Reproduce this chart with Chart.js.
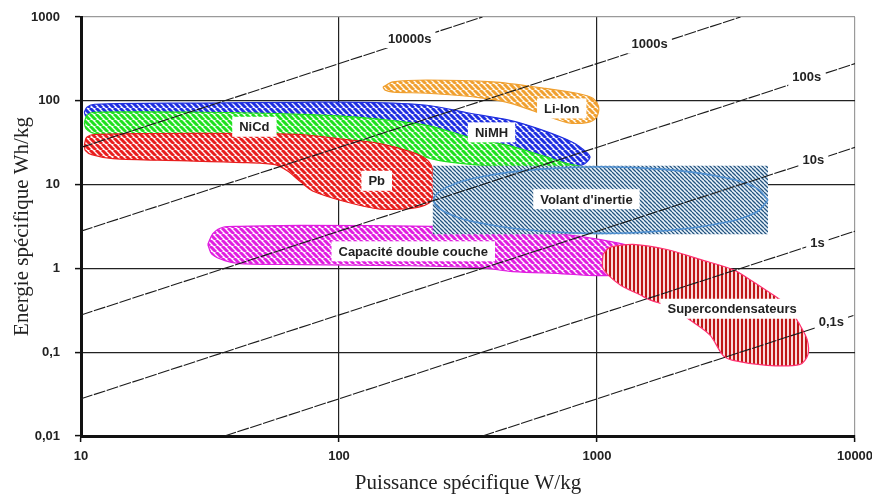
<!DOCTYPE html>
<html>
<head>
<meta charset="utf-8">
<script src="https://cdn.jsdelivr.net/npm/chart.js"></script>
<style>
  body { margin: 0; background: #fff; }
  #wrap { width: 872px; height: 494px; }
</style>
</head>
<body>
<div id="wrap"><canvas id="myChart" width="872" height="494"></canvas></div>
<script>
// axes
var xTicks = [10, 100, 1000, 10000];
var xTickLabels = ['10', '100', '1000', '10000'];
var yTicks = [0.01, 0.1, 1, 10, 100, 1000];
var yTickLabels = ['0,01', '0,1', '1', '10', '100', '1000'];

// region outlines, [puissance W/kg, energie Wh/kg]
var nimh = [[10.3,73],[10.55,84],[11.3,91],[29,94],[71,96],[120,96],[219,88.5],[322,71],[460,58.5],[618,44.4],[807,31.8],[914,24.1],[939,21],[883,17.3],[751,16.3],[421,19.3],[172,33.6],[71,51],[18.5,58.5],[11.3,61.8],[10.45,65.3]];
var nicd = [[10.3,55],[10.55,67],[11.3,73],[29,73],[71,69],[120,63.5],[219,51],[322,36.5],[460,29],[618,22],[766,17.8],[898,15.9],[786,14.6],[421,16.3],[246,19.3],[172,25.5],[71,33.6],[18.5,36.5],[11.3,40.7],[10.45,46.7]];
var pb = [[10.3,29.2],[10.5,36.5],[11.3,39.6],[18.5,40.7],[45,40.7],[71,39.6],[107,34.5],[144,30.9],[194,24.1],[221,19.3],[231,14.6],[231,7.3],[221,5.9],[194,5.25],[144,5.1],[107,6.2],[79,8.4],[71,10.8],[63,14.6],[56.5,17.3],[44,18.3],[24,19.3],[13.3,20.4],[11,22.8],[10.4,25.5]];
var liion = [[148,146],[162,168],[219,177],[395,168],[618,142],[836,123],[964,107],[1015,84],[995,63.5],[914,55],[766,55],[601,71],[460,94],[343,110],[219,123],[162,127],[151,134]];
var capa = [[31,1.93],[32.5,2.62],[35.5,3.1],[41.3,3.18],[70.6,3.27],[231,3.18],[503,2.93],[859,2.41],[1227,1.99],[1603,1.6],[1754,1.28],[1468,0.916],[1028,0.819],[719,0.866],[472,0.916],[352,1.02],[172,1.08],[70.6,1.11],[41.3,1.14],[36.1,1.24],[32.2,1.47]];
var volantBox = [[231,16.8],[4600,16.8],[4600,2.55],[231,2.55]];
var volantRing = [[4600,6.54],[4113,9.27],[2972,12.5],[1836,15.2],[1037,16.3],[585,15.2],[361,12.5],[261,9.27],[233,6.54],[261,4.61],[361,3.43],[585,2.81],[1037,2.62],[1836,2.81],[2972,3.43],[4113,4.61]];
var supercap = [[1055,1.47],[1104,1.73],[1154,1.83],[1380,1.93],[1866,1.68],[2507,1.28],[3366,0.968],[3919,0.733],[4808,0.484],[5600,0.347],[5957,0.242],[6120,0.211],[6518,0.143],[6575,0.0944],[6120,0.0715],[4563,0.0696],[3366,0.0799],[3077,0.0918],[2741,0.16],[2293,0.242],[1918,0.347],[1603,0.421],[1468,0.484],[1227,0.638],[1055,0.996]];

// constant time lines (energie / puissance)
var timeNames = ['10000s', '1000s', '100s', '10s', '1s', '0,1s'];
var timeStartP = [10, 10, 10, 10, 36, 360];
var timeStartE = [27.8, 2.78, 0.278, 0.0278, 0.01, 0.01];
var timeEndP = [360, 3600, 10000, 10000, 10000, 10000];
var timeEndE = [1000, 1000, 278, 27.8, 2.78, 0.278];
var timeLabelP = [188, 1600, 6500, 6900, 7150, 8100];
var timeLabelE = [560, 480, 195, 19.8, 2.05, 0.232];

// region labels
var regionNames = ['NiCd', 'NiMH', 'Pb', 'Li-Ion', "Volant d'inertie", 'Capacité double couche', 'Supercondensateurs'];
var regionLabelP = [47, 390, 140, 730, 910, 194, 3340];
var regionLabelE = [49, 42, 11.1, 81, 6.7, 1.6, 0.33];

function hatch(color, bg, size, width, dir) {
   var c = document.createElement('canvas');
   c.width = size; c.height = size;
   var g = c.getContext('2d');
   g.fillStyle = bg;
   g.fillRect(0, 0, size, size);
   g.strokeStyle = color;
   g.lineWidth = width;
   g.beginPath();
   if (dir === '|') {
      g.moveTo(size / 2, 0); g.lineTo(size / 2, size);
   } else {
      [-size, 0, size].forEach(function(o) {
         if (dir === '\\') { g.moveTo(o, 0); g.lineTo(o + size, size); }
         else { g.moveTo(o, size); g.lineTo(o + size, 0); }
      });
   }
   g.stroke();
   return g.createPattern(c, 'repeat');
}

function pts(list, close) {
   var d = list.map(function(p) { return {x: p[0], y: p[1]}; });
   if (close) d.push({x: list[0][0], y: list[0][1]});
   return d;
}

function region(list, color, pattern, order, tension) {
   return {
      data: pts(list, true),
      borderColor: color,
      borderWidth: 1.2,
      backgroundColor: pattern,
      fill: 'shape',
      tension: tension,
      pointRadius: 0,
      order: order
   };
}

var datasets = [
   region(nimh, '#1f2fe0', hatch('#1f2fe0', '#f6f6ff', 6, 3, '\\'), 18, 0.3),
   region(nicd, '#1fe01f', hatch('#1fe01f', '#f4fff4', 6, 3, '\\'), 17, 0.3),
   region(pb, '#e81e1e', hatch('#e81e1e', '#fff6f6', 6, 3, '\\'), 16, 0.3),
   region(liion, '#f0a030', hatch('#f0a030', '#fffaf2', 6, 3, '\\'), 15, 0.3),
   region(capa, '#e01ee0', hatch('#e01ee0', '#fff6ff', 6, 3, '\\'), 14, 0.3),
   {
      data: pts(volantBox, false),
      borderWidth: 0,
      borderColor: 'rgba(0,0,0,0)',
      backgroundColor: hatch('#24547f', '#eaf3fb', 4, 1.3, '\\'),
      fill: 'shape',
      tension: 0,
      pointRadius: 0,
      order: 13
   },
   {
      data: pts(volantRing, true),
      borderColor: '#4f8fd0',
      borderWidth: 1.6,
      fill: false,
      tension: 0.4,
      pointRadius: 0,
      order: 12
   },
   region(supercap, '#ff3070', hatch('#c01818', '#fff2f2', 4, 2.2, '|'), 11, 0.3)
];

timeNames.forEach(function(name, i) {
   datasets.push({
      data: [{x: timeStartP[i], y: timeStartE[i]}, {x: timeEndP[i], y: timeEndE[i]}],
      borderColor: '#1a1a1a',
      borderWidth: 1.1,
      borderDash: [12, 1.5],
      fill: false,
      pointRadius: 0,
      order: 1
   });
});

var boxFont = 'bold 13px Arial, "Liberation Sans", sans-serif';

var labelPlugin = {
   id: 'labels',
   afterDatasetsDraw: function(chart) {
      var ctx = chart.ctx;
      var xs = chart.scales.x, ys = chart.scales.y;
      ctx.save();
      ctx.font = boxFont;
      ctx.textAlign = 'center';
      ctx.textBaseline = 'middle';
      function box(text, px, py, padX) {
         var w = ctx.measureText(text).width;
         ctx.fillStyle = '#fff';
         ctx.fillRect(px - w / 2 - padX, py - 10, w + 2 * padX, 20);
         ctx.fillStyle = '#222';
         ctx.fillText(text, px, py + 1);
      }
      regionNames.forEach(function(name, i) {
         box(name, xs.getPixelForValue(regionLabelP[i]), ys.getPixelForValue(regionLabelE[i]), 7);
      });
      timeNames.forEach(function(name, i) {
         box(name, xs.getPixelForValue(timeLabelP[i]), ys.getPixelForValue(timeLabelE[i]), 4);
      });
      ctx.restore();
   }
};

var tickFont = {family: 'Arial, "Liberation Sans", sans-serif', size: 13, weight: 'bold'};
var titleFont = {family: '"Times New Roman", "Liberation Serif", serif', size: 21, lineHeight: 1};

var ctx = document.getElementById('myChart').getContext('2d');
var chart = new Chart(ctx, {
   type: 'line',
   data: { datasets: datasets },
   plugins: [labelPlugin],
   options: {
      responsive: false,
      animation: false,
      events: [],
      layout: { padding: { left: 0, right: 0, top: 17, bottom: 0 } },
      plugins: { legend: { display: false }, tooltip: { enabled: false } },
      scales: {
         x: {
            type: 'logarithmic',
            min: 10,
            max: 10000,
            afterBuildTicks: function(s) { s.ticks = xTicks.map(function(v) { return {value: v}; }); },
            afterFit: function(s) { s.height = 58; s.paddingLeft = 0; s.paddingRight = 17; },
            ticks: {
               autoSkip: false, maxRotation: 0, padding: 7, color: '#222', font: tickFont,
               callback: function(v, i) { return xTickLabels[i]; }
            },
            grid: {
               color: function(c) { return c.tick && c.tick.value === 10000 ? '#9a9a9a' : '#222'; },
               lineWidth: 1.2, tickLength: 6, tickColor: '#111', tickWidth: 1.5
            },
            border: { color: '#111', width: 3 },
            title: { display: true, text: 'Puissance spécifique W/kg', color: '#222', font: titleFont, padding: {top: 0, bottom: 0} }
         },
         y: {
            type: 'logarithmic',
            min: 0.01,
            max: 1000,
            afterBuildTicks: function(s) { s.ticks = yTicks.map(function(v) { return {value: v}; }); },
            afterFit: function(s) { s.width = 81; s.paddingTop = 0; s.paddingBottom = 0; },
            ticks: {
               autoSkip: false, padding: 15, color: '#222', font: tickFont,
               callback: function(v, i) { return yTickLabels[i]; }
            },
            grid: {
               color: function(c) { return c.tick && c.tick.value === 1000 ? '#9a9a9a' : '#222'; },
               lineWidth: 1.2, tickLength: 6, tickColor: '#111', tickWidth: 1.5
            },
            border: { color: '#111', width: 3 },
            title: { display: true, text: 'Energie spécifique Wh/kg', color: '#222', font: titleFont, padding: {top: 12, bottom: 0} }
         }
      }
   }
});
</script>
</body>
</html>
